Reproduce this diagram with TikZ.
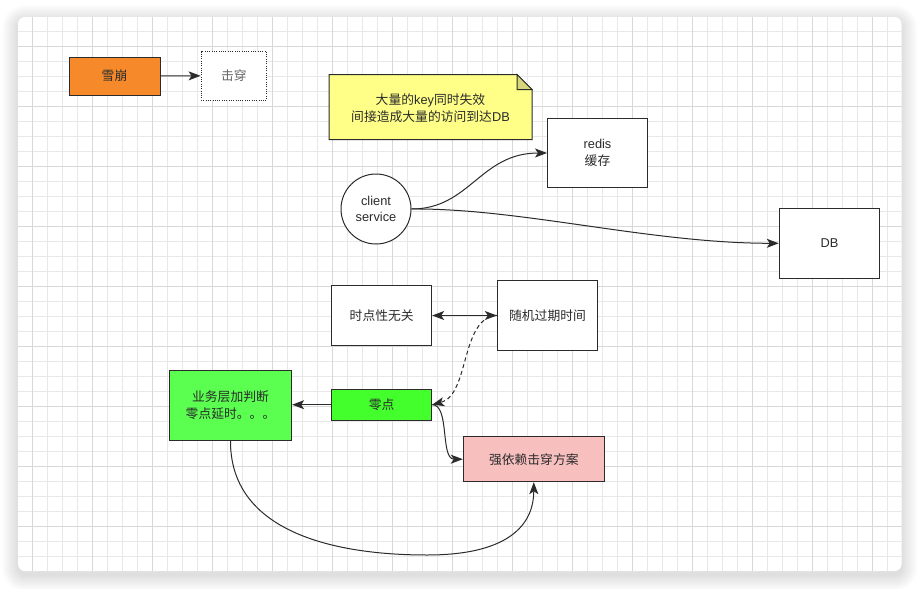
\documentclass[tikz,border=0pt]{standalone}
\usepackage{fontspec}
\setmainfont{Liberation Sans}
\newfontfamily\cjk{Noto Sans CJK SC}
\usetikzlibrary{arrows.meta}
\definecolor{ink}{HTML}{2B2B2B}
\definecolor{gridminor}{HTML}{E8E8E8}
\definecolor{gridmajor}{HTML}{D8D8D8}
\definecolor{orangefill}{HTML}{F68A2B}
\definecolor{notefill}{HTML}{FFFF88}
\definecolor{notefold}{HTML}{D6D67C}
\definecolor{greenA}{HTML}{43FF2C}
\definecolor{greenB}{HTML}{5AFF50}
\definecolor{pinkfill}{HTML}{F8BFBF}
\tikzset{
  box/.style={draw=ink, line width=1pt, inner sep=0pt, text=ink, align=center,
    font=\fontsize{12.8pt}{16.5pt}\selectfont},
  conn/.style={draw=ink, line width=1pt, -{Stealth[length=12pt,width=9pt,inset=3pt]}},
  biconn/.style={draw=ink, line width=1pt, {Stealth[length=12pt,width=9pt,inset=3pt]}-{Stealth[length=12pt,width=9pt,inset=3pt]}},
  minorline/.style={draw=gridminor, line width=1pt},
  majorline/.style={draw=gridmajor, line width=1pt},
}
\begin{document}
\begin{tikzpicture}[x=1pt,y=-1pt]
\useasboundingbox (0,0) rectangle (919,589);
\fill[white] (0,0) rectangle (919,589);
% shadow
\foreach \i in {1,...,16}{
  \fill[black, opacity=0.009, rounded corners={7+\i}] ({18-\i},{17-\i+4}) rectangle ({901.5+\i},{571+\i+4});
}
% card
\fill[white, rounded corners=7pt] (18,17) rectangle (901.5,571);
\begin{scope}
  \clip[rounded corners=7pt] (18,17) rectangle (901.5,571);
  \foreach \k in {0,...,57} \draw[minorline] ({32.7+15*\k},17) -- ({32.7+15*\k},571);
  \foreach \k in {0,...,35} \draw[minorline] (18,{31.7+15*\k}) -- (901.5,{31.7+15*\k});
  \foreach \k in {0,...,14} \draw[majorline] ({32.7+60*\k},17) -- ({32.7+60*\k},571);
  \foreach \k in {0,...,8} \draw[majorline] (18,{46.7+60*\k}) -- (901.5,{46.7+60*\k});
\end{scope}

% nodes
\node[box, fill=orangefill, minimum width=91pt, minimum height=38pt] (xb) at (114.5,76) {{\cjk 雪崩}};
\node[box, fill=white, dash pattern=on 1pt off 1.3pt, minimum width=65.5pt, minimum height=48.5pt, text=black!60] (jc) at (233.8,75.8) {{\cjk 击穿}};

% note
\filldraw[fill=notefill, draw=ink, line width=1pt] (329,74.5) -- (517,74.5) -- (532,89.5) -- (532,139.5) -- (329,139.5) -- cycle;
\filldraw[fill=notefold, draw=ink, line width=1pt] (517,74.5) -- (532,89.5) -- (517,89.5) -- cycle;
\node[box, draw=none] (note) at (430.5,108) {{\cjk 大量的}key{\cjk 同时失效}\\{\cjk 间接造成大量的访问到达}DB};

\node[box, fill=white, minimum width=100pt, minimum height=69.5pt] (redis) at (597.5,153) {redis\\{\cjk 缓存}};
\node[box, fill=white, circle, minimum size=70pt] (cs) at (376,209) {client\\service};
\node[box, fill=white, minimum width=100.5pt, minimum height=70pt] (db) at (829.5,243.3) {DB};

\node[box, fill=white, minimum width=100pt, minimum height=59.3pt] (sd) at (381.7,315.5) {{\cjk 时点性无关}};
\node[box, fill=white, minimum width=100.3pt, minimum height=70pt] (sj) at (547.5,315.3) {{\cjk 随机过期时间}};
\node[box, fill=greenA, minimum width=100pt, minimum height=31.3pt] (ld) at (381.7,404.7) {{\cjk 零点}};
\node[box, fill=greenB, minimum width=122.3pt, minimum height=70pt] (yw) at (230.5,405.3) {{\cjk 业务层加判断}\\{\cjk 零点延时。。。}};
\node[box, fill=pinkfill, minimum width=141pt, minimum height=45pt] (qy) at (533.8,459.2) {{\cjk 强依赖击穿方案}};

% connectors
\draw[conn] (xb.east) -- (jc.west);
\draw[conn] (cs.east) .. controls (470,209) and (480,153) .. (redis.west);
\draw[conn] (cs.east) .. controls (520,208) and (650,243.3) .. (db.west);
\draw[biconn] (sd.east) -- (sj.west |- sd.east);
\draw[conn, dash pattern=on 4pt off 3pt] (sj.west) .. controls (460,318) and (470,395) .. (ld.east);
\draw[conn] (ld.west) -- (yw.east |- ld.west);
\draw[conn] (ld.east) .. controls (450,404.7) and (440,459.2) .. (qy.west);
\coordinate (low) at (427,555);
\draw[conn] (yw.south) .. controls (230,530) and (330,555) .. (low) .. controls (515,555) and (533.8,520) .. (qy.south);
\end{tikzpicture}
\end{document}
